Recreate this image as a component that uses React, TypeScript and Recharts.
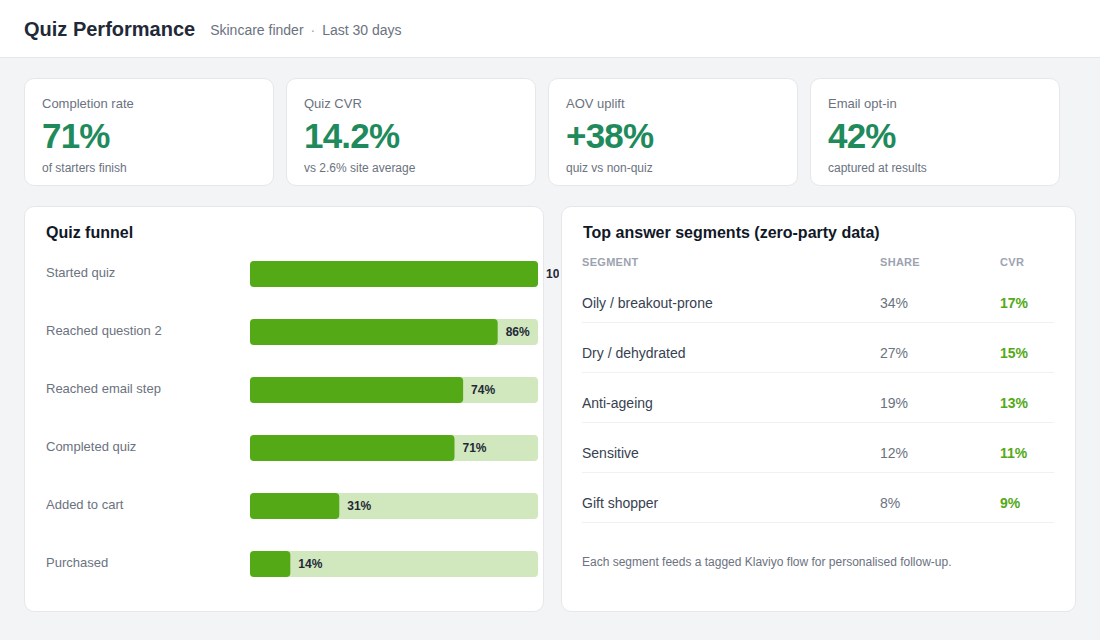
import React from 'react'
import { BarChart, Bar, XAxis, YAxis, LabelList } from 'recharts'

const FONT = '"Liberation Sans", Arial, Helvetica, sans-serif'

// KPI tiles
const kpiLabels = ['Completion rate', 'Quiz CVR', 'AOV uplift', 'Email opt-in']
const kpiValues = ['71%', '14.2%', '+38%', '42%']
const kpiNotes = ['of starters finish', 'vs 2.6% site average', 'quiz vs non-quiz', 'captured at results']

// funnel
const funnelStages = ['Started quiz', 'Reached question 2', 'Reached email step', 'Completed quiz', 'Added to cart', 'Purchased']
const funnelValues = [100, 86, 74, 71, 31, 14]

// segments table
const segmentNames = ['Oily / breakout-prone', 'Dry / dehydrated', 'Anti-ageing', 'Sensitive', 'Gift shopper']
const segmentShare = [34, 27, 19, 12, 8]
const segmentCvr = [17, 15, 13, 11, 9]

const funnelData = funnelStages.map((stage, i) => ({ stage, value: funnelValues[i] }))

const card: React.CSSProperties = {
  position: 'absolute',
  background: '#fff',
  border: '1px solid #e5e7eb',
  borderRadius: 10,
  boxSizing: 'border-box',
}

function StageTick(props: any) {
  const { y, payload } = props
  return (
    <text x={0} y={y - 1} dy={4} textAnchor="start" fontSize={13} fill="#6b7280" fontFamily={FONT}>
      {payload.value}
    </text>
  )
}

export default function App() {
  return (
    <div
      style={{
        position: 'absolute',
        left: 0,
        top: 0,
        width: 1100,
        height: 640,
        background: '#f3f4f6',
        fontFamily: FONT,
        overflow: 'hidden',
      }}
    >
      {/* header */}
      <div
        style={{
          position: 'absolute',
          left: 0,
          top: 0,
          width: 1100,
          height: 58,
          background: '#fff',
          borderBottom: '1px solid #e5e7eb',
          display: 'flex',
          alignItems: 'center',
          paddingLeft: 24,
          paddingTop: 2,
          boxSizing: 'border-box',
        }}
      >
        <span style={{ fontSize: 20, fontWeight: 700, color: '#1f2937' }}>Quiz Performance</span>
        <span style={{ fontSize: 14, color: '#6b7280', marginLeft: 15 }}>
          Skincare finder<span style={{ margin: '0 7px', color: '#9ca3af' }}>·</span>Last 30 days
        </span>
      </div>

      {/* KPI tiles */}
      {kpiLabels.map((label, i) => (
        <div key={label} style={{ ...card, left: 24, marginLeft: i * 262, top: 78, width: 250, height: 108, padding: '17px 17px' }}>
          <div style={{ fontSize: 13, color: '#6b7280' }}>{label}</div>
          <div style={{ fontSize: 35, fontWeight: 700, color: '#1f8b5c', letterSpacing: -0.8, marginTop: 5, lineHeight: '40px' }}>
            {kpiValues[i]}
          </div>
          <div style={{ fontSize: 12, color: '#6b7280', marginTop: 5 }}>{kpiNotes[i]}</div>
        </div>
      ))}

      {/* funnel card */}
      <div style={{ ...card, left: 24, top: 206, width: 520, height: 406 }}>
        <div style={{ position: 'absolute', left: 21, top: 17, fontSize: 16, fontWeight: 700, color: '#111827' }}>
          Quiz funnel
        </div>
        <div style={{ position: 'absolute', left: 21, top: 38 }}>
          <BarChart
            width={513}
            height={348}
            data={funnelData}
            layout="vertical"
            margin={{ top: 0, right: 21, bottom: 0, left: 0 }}
            barCategoryGap={16}
          >
            <XAxis type="number" domain={[0, 100]} hide />
            <YAxis type="category" dataKey="stage" width={204} axisLine={false} tickLine={false} tick={<StageTick />} />
            <Bar
              dataKey="value"
              fill="#53a916"
              radius={4}
              barSize={26}
              background={{ fill: '#d1e7bd', radius: 4 }}
              isAnimationActive={false}
            >
              <LabelList
                dataKey="value"
                position="right"
                offset={8}
                formatter={(v: any) => `${v}%`}
                style={{ fontSize: 12, fontWeight: 700, fill: '#1f2937', fontFamily: FONT }}
              />
            </Bar>
          </BarChart>
        </div>
      </div>

      {/* segments card */}
      <div style={{ ...card, left: 561, top: 206, width: 515, height: 406 }}>
        <div style={{ position: 'absolute', left: 21, top: 17, fontSize: 16, fontWeight: 700, color: '#111827' }}>
          Top answer segments (zero-party data)
        </div>
        <div
          style={{
            position: 'absolute',
            left: 20,
            top: 49,
            width: 472,
            fontSize: 11,
            fontWeight: 700,
            color: '#9ca3af',
            letterSpacing: 0.3,
          }}
        >
          <span style={{ position: 'absolute', left: 0 }}>SEGMENT</span>
          <span style={{ position: 'absolute', left: 298 }}>SHARE</span>
          <span style={{ position: 'absolute', left: 418 }}>CVR</span>
        </div>
        {segmentNames.map((name, i) => (
          <div
            key={name}
            style={{
              position: 'absolute',
              left: 20,
              top: 71 + i * 50,
              width: 472,
              height: 44,
              borderBottom: '1px solid #f0f1f3',
              fontSize: 14,
            }}
          >
            <span style={{ position: 'absolute', left: 0, top: 17, color: '#374151' }}>{name}</span>
            <span style={{ position: 'absolute', left: 298, top: 17, color: '#6b7280' }}>{segmentShare[i]}%</span>
            <span style={{ position: 'absolute', left: 418, top: 17, color: '#53a916', fontWeight: 700 }}>
              {segmentCvr[i]}%
            </span>
          </div>
        ))}
        <div style={{ position: 'absolute', left: 20, top: 348, fontSize: 12, color: '#6b7280' }}>
          Each segment feeds a tagged Klaviyo flow for personalised follow-up.
        </div>
      </div>
    </div>
  )
}
